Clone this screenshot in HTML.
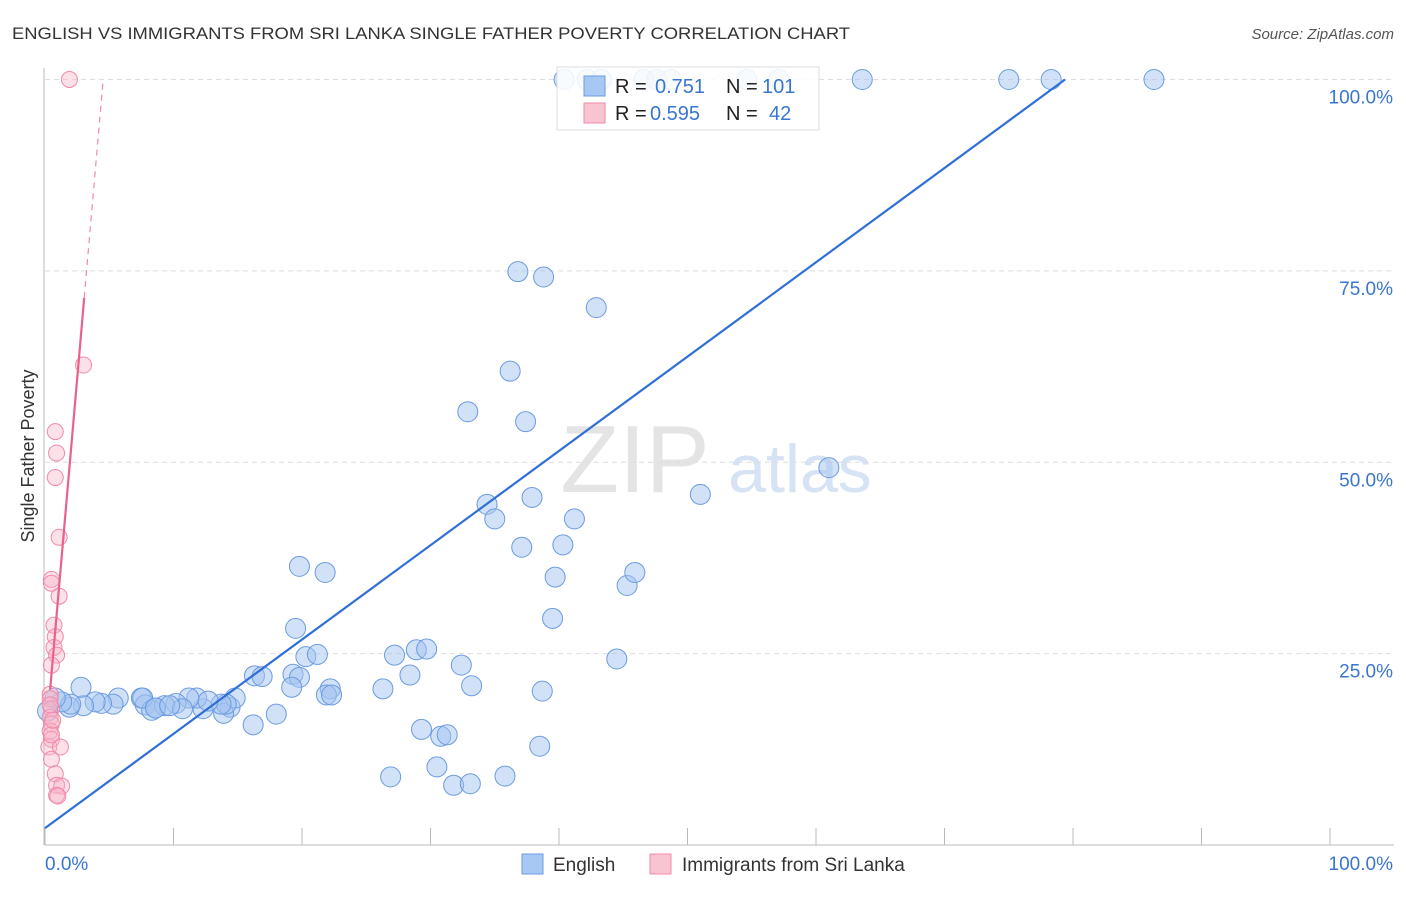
<!DOCTYPE html>
<html><head><meta charset="utf-8"><style>
body{margin:0;background:#fff;font-family:"Liberation Sans",sans-serif}
svg text{font-family:"Liberation Sans",sans-serif}
</style></head><body>
<svg id="chart" width="1406" height="892" xmlns="http://www.w3.org/2000/svg">
<text x="12" y="39" font-size="17" fill="#333" textLength="838" lengthAdjust="spacingAndGlyphs">ENGLISH VS IMMIGRANTS FROM SRI LANKA SINGLE FATHER POVERTY CORRELATION CHART</text>
<text x="1394" y="39" font-size="15" fill="#555" text-anchor="end" font-style="italic">Source: ZipAtlas.com</text>
<text x="34" y="456" font-size="18" fill="#333" text-anchor="middle" transform="rotate(-90 34 456)">Single Father Poverty</text>
<g><text x="635" y="492" font-size="96" fill="#e4e4e4" text-anchor="middle" font-family="Liberation Serif">ZIP</text><text x="800" y="492" font-size="68" fill="#d6e3f5" text-anchor="middle">atlas</text></g>
<g id="grid"></g><g id="axes"></g><g id="pts"></g><g id="lines"></g>
<g>
<rect x="557" y="67" width="262" height="63" fill="rgba(255,255,255,0.85)" stroke="#ddd"/>
<rect x="584" y="76" width="21" height="20" fill="#a8c8f4" stroke="#6b9be0"/>
<text x="615" y="93" font-size="20" fill="#222">R = </text><text x="655" y="93" font-size="20" fill="#3a76d0">0.751</text>
<text x="726" y="93" font-size="20" fill="#222">N = </text><text x="762" y="93" font-size="20" fill="#3a76d0">101</text>
<rect x="584" y="103" width="21" height="20" fill="#f9c4d2" stroke="#f08aa8"/>
<text x="615" y="120" font-size="20" fill="#222">R = </text><text x="650" y="120" font-size="20" fill="#3a76d0">0.595</text>
<text x="726" y="120" font-size="20" fill="#222">N = </text><text x="769" y="120" font-size="20" fill="#3a76d0">42</text>
</g>
<g>
<rect x="522" y="854" width="21" height="20" fill="#a8c8f4" stroke="#6b9be0"/>
<text x="553" y="871" font-size="19" fill="#333">English</text>
<rect x="650" y="854" width="21" height="20" fill="#f9c4d2" stroke="#f08aa8"/>
<text x="682" y="871" font-size="19" fill="#333">Immigrants from Sri Lanka</text>
</g>
</svg>
<script>
const yTicks=[25,50,75,100];
const yTickLabels=["25.0%","50.0%","75.0%","100.0%"];
const xTickVals=[0,10,20,30,40,50,60,70,80,90,100];
const englishX=[40.4,42.2,43.3,46.6,47.6,48.7,54.6,57.1,63.6,75.0,78.3,86.3,36.8,38.8,42.9,36.2,32.9,37.4,61.0,51.0,37.9,34.4,35.0,41.2,37.1,40.3,39.7,45.3,45.9,21.8,19.8,39.5,19.5,44.5,28.9,29.7,27.2,20.3,21.2,32.4,16.3,16.9,19.3,19.8,28.4,33.2,26.3,22.2,38.7,21.9,22.3,14.4,13.9,16.2,12.3,11.8,11.2,10.2,5.7,7.5,7.8,8.3,9.3,7.6,8.6,5.3,4.4,3.9,3.0,1.9,2.0,1.3,0.8,0.2,29.3,30.8,31.3,38.5,26.9,30.5,35.8,31.8,33.1,19.2,14.8,18.0,14.1,13.7,8.6,10.7,12.7,9.7,2.8];
const englishY=[100,100,100,100,100,100,100,100,100,100,100,100,74.9,74.2,70.2,61.9,56.6,55.3,49.3,45.8,45.4,44.5,42.6,42.6,38.9,39.2,35.0,33.9,35.6,35.6,36.4,29.6,28.3,24.3,25.5,25.6,24.8,24.6,24.9,23.5,22.1,22.0,22.3,21.9,22.2,20.8,20.4,20.4,20.1,19.6,19.6,18.0,17.2,15.7,17.8,19.2,19.2,18.5,19.2,19.2,18.3,17.6,18.2,19.2,17.9,18.4,18.5,18.7,18.2,18.0,18.4,18.7,19.2,17.5,15.1,14.2,14.4,12.9,8.9,10.2,9.0,7.8,8.0,20.6,19.2,17.1,18.4,18.4,17.9,17.8,18.8,18.2,20.6];
const sriX=[1.9,3.0,0.8,0.9,0.8,1.1,0.5,0.5,1.1,0.7,0.8,0.7,0.9,0.5,0.4,0.4,0.5,0.4,0.5,0.4,0.5,0.3,1.2,0.5,0.8,0.9,1.3,0.9,0.5,0.6,0.4,1.0];
const sriY=[100,62.7,54.0,51.2,48.0,40.2,34.7,34.2,32.5,28.7,27.2,25.8,24.8,23.5,19.7,19.1,17.8,16.7,15.8,14.9,13.8,12.8,12.8,11.2,9.3,7.8,7.7,6.5,14.4,16.3,18.3,6.4];
const englishFit=[2.2,1.232];
const sriFit=[12.6,19.3];
const X0=45,X1=1330,Y0=845,Y100=79.5;
const xs=v=>X0+(X1-X0)*v/100;
const ys=v=>Y0-(Y0-Y100)*v/100;
const NS="http://www.w3.org/2000/svg";
function mk(tag,attrs,parent){const e=document.createElementNS(NS,tag);for(const k in attrs)e.setAttribute(k,attrs[k]);document.getElementById(parent).appendChild(e);return e;}
yTicks.forEach((t,i)=>{
 const g=mk('line',{x1:45,x2:1394,y1:ys(t),y2:ys(t),stroke:'#ddd','stroke-dasharray':'5,4'},'grid');
 
 
 const l=mk('text',{x:1393,y:ys(t)+24,'font-size':19,fill:'#3a76d0','text-anchor':'end'},'grid');
 l.textContent=yTickLabels[i];
 
 
});
const ax=mk('line',{x1:45,x2:1394,y1:845,y2:845,stroke:'#bbb'},'axes');


const ay=mk('line',{x1:44,x2:44,y1:68,y2:845,stroke:'#bbb'},'axes');


xTickVals.forEach(t=>{
 const k=mk('line',{x1:xs(t),x2:xs(t),y1:828,y2:845,stroke:'#bbb'},'axes');
 
 
});
const xl0=mk('text',{x:45,y:870,'font-size':19,fill:'#3a76d0'},'axes');xl0.textContent='0.0%';


const xl1=mk('text',{x:1393,y:870,'font-size':19,fill:'#3a76d0','text-anchor':'end'},'axes');xl1.textContent='100.0%';


englishX.forEach((v,i)=>{
 const c=mk('circle',{cx:xs(v),cy:ys(englishY[i]),r:10,fill:'rgba(164,196,240,0.5)',stroke:'#6b9be0','stroke-width':1},'pts');
 
 
});
sriX.forEach((v,i)=>{
 const c=mk('circle',{cx:xs(v),cy:ys(sriY[i]),r:8,fill:'rgba(248,180,200,0.4)',stroke:'#f08aa8','stroke-width':1},'pts');
 
 
});
const ex1=(100-englishFit[0])/englishFit[1];
const bl=mk('line',{x1:xs(0),y1:ys(englishFit[0]),x2:xs(ex1),y2:ys(100),stroke:'#2f6fd6','stroke-width':2.2},'lines');


const ps=0.4,pe=3.05,pd=(100-sriFit[0])/sriFit[1];
const pl=mk('line',{x1:xs(ps),y1:ys(sriFit[0]+sriFit[1]*ps),x2:xs(pe),y2:ys(sriFit[0]+sriFit[1]*pe),stroke:'#e8628a','stroke-width':2.2},'lines');


const pdl=mk('line',{x1:xs(pe),y1:ys(sriFit[0]+sriFit[1]*pe),x2:xs(pd),y2:ys(100),stroke:'#f08aa8','stroke-width':1.2,'stroke-dasharray':'6,5'},'lines');


</script>
</body></html>
